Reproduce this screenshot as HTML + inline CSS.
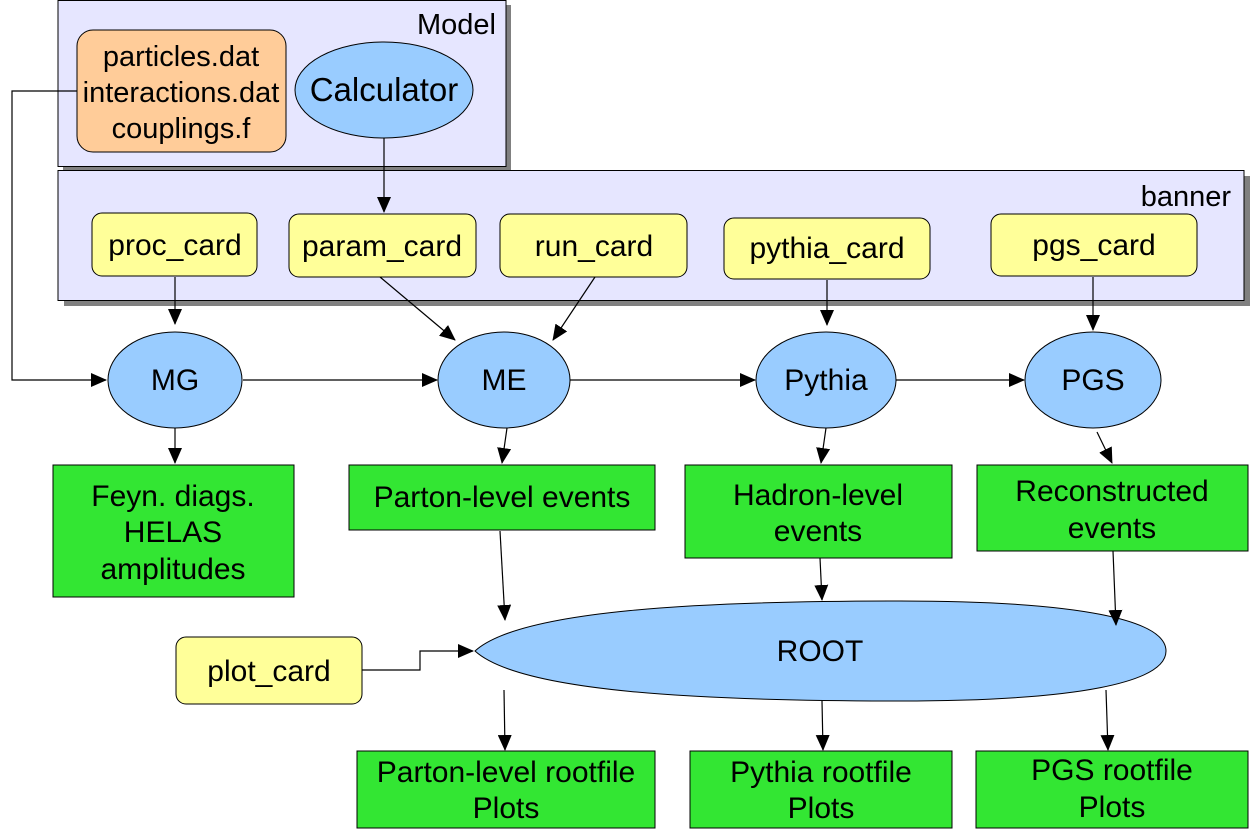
<!DOCTYPE html><html><head><style>body{margin:0;background:#fff}svg{display:block}text{font-family:"Liberation Sans",sans-serif;fill:#000}</style></head><body>
<svg width="1258" height="830" viewBox="0 0 1258 830">
<defs><marker id="a" markerWidth="16" markerHeight="14" refX="15" refY="7" orient="auto" markerUnits="userSpaceOnUse"><path d="M0,0 L16,7 L0,14 z" fill="#000"/></marker></defs>
<rect x="63" y="5" width="448" height="166" fill="#808080"/>
<rect x="58" y="0.5" width="448" height="166" fill="#e6e6ff" stroke="#000"/>
<text x="496" y="34" font-size="29" text-anchor="end">Model</text>
<rect x="64" y="176" width="1186" height="130" fill="#808080"/>
<rect x="58" y="170.5" width="1186" height="130" fill="#e6e6ff" stroke="#000"/>
<text x="1231" y="206" font-size="29" text-anchor="end">banner</text>
<rect x="77" y="30" width="209" height="122" rx="16" fill="#ffcc99" stroke="#000"/>
<g font-size="29" text-anchor="middle"><text x="181" y="66">particles.dat</text><text x="181" y="102">interactions.dat</text><text x="181" y="138">couplings.f</text></g>
<ellipse cx="384" cy="90" rx="89" ry="48" fill="#99ccff" stroke="#000"/>
<text x="384" y="101" font-size="33" text-anchor="middle">Calculator</text>
<g fill="#ffff99" stroke="#000">
<rect x="92" y="213" width="165" height="63" rx="10"/>
<rect x="289" y="214" width="187" height="63" rx="10"/>
<rect x="500" y="214" width="187" height="63" rx="10"/>
<rect x="724" y="218" width="206" height="61" rx="10"/>
<rect x="991" y="214" width="206" height="62" rx="10"/>
<rect x="176" y="637" width="186" height="67" rx="10"/>
</g>
<g font-size="30" text-anchor="middle">
<text x="175" y="255">proc_card</text><text x="382" y="256">param_card</text><text x="594" y="256">run_card</text><text x="827" y="258">pythia_card</text><text x="1094" y="255">pgs_card</text><text x="269" y="681">plot_card</text>
</g>
<g fill="#99ccff" stroke="#000">
<ellipse cx="175" cy="380" rx="67" ry="48"/><ellipse cx="504" cy="380" rx="66" ry="48"/><ellipse cx="826" cy="380" rx="70" ry="48"/><ellipse cx="1093" cy="380" rx="68" ry="48"/>
<path d="M475,651 C520,610 700,601 900,601 C1080,601 1166,620 1166,651 C1166,682 1080,701 900,701 C700,701 520,692 475,651 z"/>
</g>
<g font-size="30" text-anchor="middle">
<text x="175" y="390">MG</text><text x="504" y="390">ME</text><text x="826" y="390">Pythia</text><text x="1093" y="390">PGS</text><text x="820" y="661">ROOT</text>
</g>
<g fill="#33e633" stroke="#000">
<rect x="53" y="465" width="241" height="132"/><rect x="349" y="465" width="306" height="65"/><rect x="685" y="465" width="267" height="93"/><rect x="977" y="465" width="271" height="86"/>
<rect x="357" y="751" width="298" height="77"/><rect x="690" y="751" width="262" height="77"/><rect x="976" y="751" width="272" height="77"/>
</g>
<g font-size="30" text-anchor="middle">
<text x="173" y="506">Feyn. diags.</text><text x="173" y="542">HELAS</text><text x="173" y="579">amplitudes</text>
<text x="502" y="507">Parton-level events</text>
<text x="818" y="505">Hadron-level</text><text x="818" y="541">events</text>
<text x="1112" y="501">Reconstructed</text><text x="1112" y="538">events</text>
<text x="506" y="782">Parton-level rootfile</text><text x="506" y="818">Plots</text>
<text x="821" y="782">Pythia rootfile</text><text x="821" y="818">Plots</text>
<text x="1112" y="780">PGS rootfile</text><text x="1112" y="817">Plots</text>
</g>
<g stroke="#000" stroke-width="1.2" fill="none" marker-end="url(#a)">
<path d="M77,91 H12 V380 H106"/>
<path d="M243,380 H437"/><path d="M570,380 H755"/><path d="M896,380 H1024"/>
<path d="M384,138 V212"/><path d="M175,277 V324"/><path d="M380,277 L455,340"/><path d="M595,277 L553,340"/><path d="M827,280 V325"/><path d="M1093,277 V330"/>
<path d="M175,428 V463"/><path d="M507,428 L502,463"/><path d="M826,428 L821,463"/><path d="M1097,432 L1112,463"/>
<path d="M500,531 L505,620"/><path d="M820,558 L822,600"/><path d="M1113,551 L1116,625"/>
<path d="M362,670 H420 V651 H473"/>
<path d="M504,690 L505,750"/><path d="M822,701 L823,750"/><path d="M1106,690 L1108,750"/>
</g>
</svg></body></html>
